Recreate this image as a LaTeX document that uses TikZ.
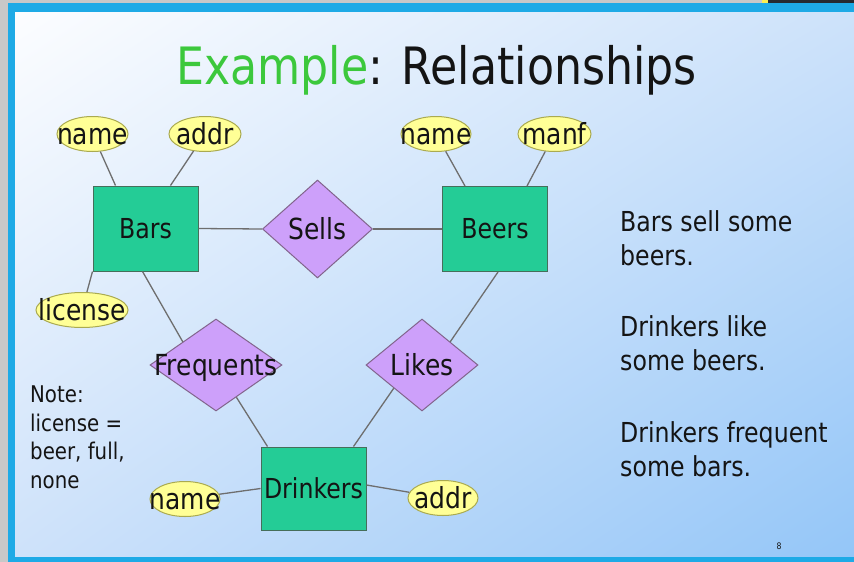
\documentclass[tikz,border=0pt]{standalone}
\usepackage{fontspec}
\setmainfont[FakeStretch=0.86]{DejaVu Sans}
\usetikzlibrary{shapes.geometric, shadings, positioning}

\definecolor{framegray}{RGB}{200,200,200}
\definecolor{framedark}{RGB}{38,42,48}
\definecolor{frameyellow}{RGB}{250,238,80}
\definecolor{slideblue}{RGB}{30,170,230}
\definecolor{bgtopleft}{RGB}{252,253,255}
\definecolor{bgtopright}{RGB}{205,226,250}
\definecolor{bgbotleft}{RGB}{206,226,250}
\definecolor{bgbotright}{RGB}{148,198,248}
\definecolor{titlegreen}{RGB}{60,200,60}
\definecolor{entityfill}{RGB}{36,204,150}
\definecolor{entityline}{RGB}{70,110,90}
\definecolor{relfill}{RGB}{205,160,250}
\definecolor{relline}{RGB}{130,100,140}
\definecolor{attrfill}{RGB}{255,255,150}
\definecolor{attrline}{RGB}{170,170,80}
\definecolor{linkgray}{RGB}{110,110,110}
\definecolor{inkdark}{RGB}{20,20,20}

\newcommand{\bodysize}{\fontsize{27.5}{34}\selectfont}
\newcommand{\shapesize}{\fontsize{29}{34}\selectfont}
\newcommand{\notesize}{\fontsize{23}{28.5}\selectfont}

\begin{document}
\begin{tikzpicture}[x=1pt, y=-1pt,
  entity/.style={draw=entityline, fill=entityfill, line width=1pt, minimum width=105pt, minimum height=85pt, inner sep=0pt, font=\bodysize, text=inkdark},
  relation/.style={diamond, draw=relline, fill=relfill, line width=1pt, inner sep=0pt},
  attr/.style={ellipse, draw=attrline, fill=attrfill, line width=1pt, minimum height=35pt, inner sep=0pt},
  link/.style={draw=linkgray, line width=1.3pt},
  every label/.style={font=\shapesize, text=inkdark, inner sep=0pt, text height=21pt, text depth=0pt},
  remark/.style={anchor=north west, align=left, inner sep=0pt, text=inkdark}]
\useasboundingbox (0,0) rectangle (854,562);
\fill [framegray] (0,0) rectangle (854,562);
\fill [framedark] (768,0) rectangle (854,4);
\fill [frameyellow] (762,0) rectangle (768,4);
\fill [slideblue] (8,3) rectangle (854,562);
\shade [upper left=bgtopleft, upper right=bgtopright, lower left=bgbotleft, lower right=bgbotright] (15,12) rectangle (854,556);
\node (title) at (436.5,84) [anchor=base, font=\fontsize{51.5}{60}\selectfont, text=inkdark] {\textcolor{titlegreen}{Example}: Relationships};
\node (bars) at (145.5,228.5) [entity] {Bars};
\node (beers) at (495,229) [entity] {Beers};
\node (drinkers) at (313.5,488.5) [entity, minimum height=83pt] {Drinkers};
\node (sells) at (317.5,229) [relation, minimum width=110pt, minimum height=98pt, label=center:Sells] {};
\node (freq) at (216,365) [relation, minimum width=132pt, minimum height=92pt, label=center:Frequents] {};
\node (likes) at (422,365) [relation, minimum width=112pt, minimum height=92pt, label=center:Likes] {};
\node (bname) at (92.5,134) [attr, minimum width=71pt, label=center:name] {};
\node (baddr) at (205,134) [attr, minimum width=72pt, label=center:addr] {};
\node (blicense) at (82,310) [attr, minimum width=92pt, label=center:license] {};
\node (bename) at (436,134) [attr, minimum width=70pt, label=center:name] {};
\node (bemanf) at (554.5,134) [attr, minimum width=73pt, label=center:manf] {};
\node (dname) at (185,499) [attr, minimum width=70pt, label=center:name] {};
\node (daddr) at (443,498) [attr, minimum width=70pt, label=center:addr] {};
\draw [link] (bname) -- ([xshift=-30pt]bars.north);
\draw [link] (baddr) -- ([xshift=25pt]bars.north);
\draw [link] (blicense) -- (bars.south west);
\draw [link] (bars.east) -- (sells.west);
\draw [link] (sells.east) -- (beers.west);
\draw [link] (bename) -- ([xshift=-30pt]beers.north);
\draw [link] (bemanf) -- ([xshift=32pt]beers.north);
\draw [link] ([xshift=-3pt]bars.south) -- (freq.north west);
\draw [link] ([xshift=3pt]beers.south) -- (likes.north east);
\draw [link] (freq) -- ([xshift=7pt]drinkers.north west);
\draw [link] (likes.south west) -- ([xshift=-13pt]drinkers.north east);
\draw [link] (dname) -- (drinkers.west);
\draw [link] (daddr) -- ([yshift=3.5pt]drinkers.east);
\node (sellnote) at (620,210) [remark, font=\bodysize] {Bars sell some\\beers.};
\node (likenote) at (620,315) [remark, font=\bodysize] {Drinkers like\\some beers.};
\node (freqnote) at (620,421) [remark, font=\bodysize] {Drinkers frequent\\some bars.};
\node (licnote) at (30,386) [remark, font=\notesize] {Note:\\license =\\beer, full,\\none};
\node (pageno) at (779,546) [font=\fontsize{9}{10}\selectfont, text=inkdark] {8};
\end{tikzpicture}
\end{document}
